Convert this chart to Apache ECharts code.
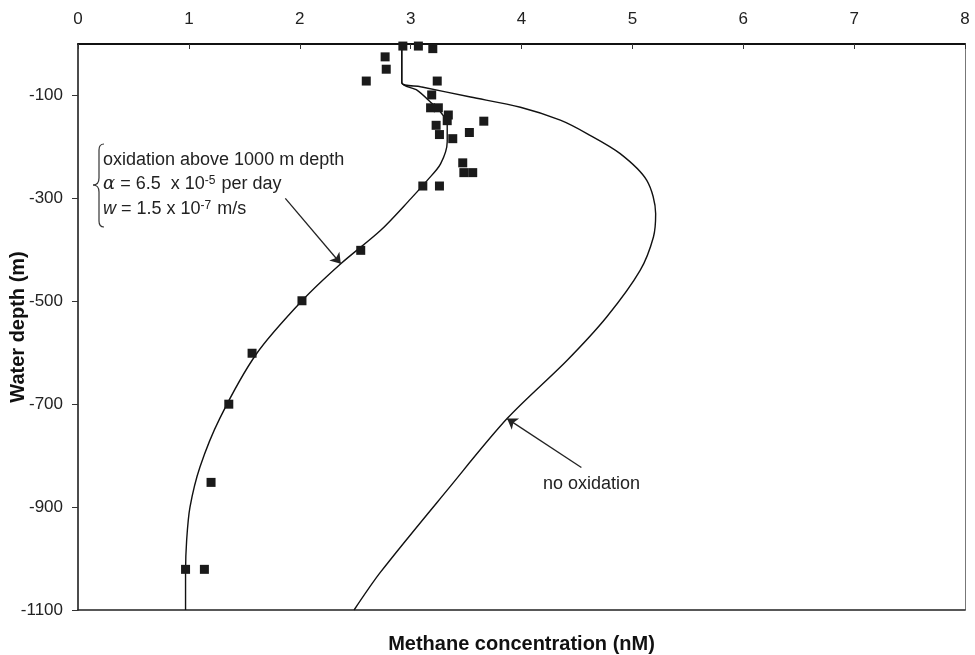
<!DOCTYPE html>
<html>
<head>
<meta charset="utf-8">
<script src="https://cdn.jsdelivr.net/npm/echarts@6/dist/echarts.min.js"></script>
<style>
html,body{margin:0;padding:0;background:#fff;}
#chart{width:975px;height:655px;}
</style>
</head>
<body>
<div id="chart"></div>
<script>
// Measured methane concentrations: [concentration nM, depth m]
const measured = [
  [2.93,-4],[3.07,-4],[3.20,-9],[2.77,-25],[2.78,-49],[2.60,-72],[3.24,-72],
  [3.19,-99],[3.18,-124],[3.25,-124],[3.34,-138],[3.33,-149],[3.23,-158],[3.66,-150],
  [3.26,-176],[3.53,-172],[3.38,-184],[3.47,-231],[3.48,-250],[3.56,-250],
  [3.11,-276],[3.26,-276],[2.55,-401],[2.02,-499],[1.57,-601],[1.36,-700],
  [1.20,-852],[0.97,-1021],[1.14,-1021]
];
// Model profile with oxidation above 1000 m
const oxidationModel = [
  [2.92,0],[2.92,-75],[3.06,-90],[3.18,-113],[3.28,-135],[3.33,-155],
  [3.33,-190],[3.27,-233],[3.15,-265],[3.00,-301],[2.73,-362],[2.37,-427],
  [2.02,-499],[1.61,-602],[1.28,-727],[1.10,-822],[1.01,-900],
  [0.98,-964],[0.97,-1028],[0.97,-1100]
];
// Model profile without oxidation
const noOxidationModel = [
  [2.92,0],[2.92,-75],[3.09,-83],[3.54,-103],[3.99,-123],[4.35,-148],[4.59,-174],
  [4.89,-213],[5.13,-265],[5.21,-330],[5.19,-375],[5.07,-440],[4.77,-530],
  [4.41,-615],[3.87,-728],[3.33,-867],[2.73,-1026],[2.49,-1100]
];
// Arrow annotations [from, to]
const arrowOxidation = [[1.87,-300],[2.37,-427]];
const arrowNoOxidation = [[4.54,-823],[3.87,-728]];

const xTicks = {min:0, max:8, interval:1};
const yTicks = {min:-1100, max:0, interval:200};

const FONT = '"Liberation Sans", Arial, sans-serif';
const chart = echarts.init(document.getElementById('chart'), null, {renderer:'canvas'});

const braceStyle = {stroke:'#333', lineWidth:1.2, fill:'none'};
const option = {
  backgroundColor:'#fff',
  animation:false,
  grid:{left:78, right:10, top:44, bottom:45, containLabel:false, outerBoundsMode:'none'},
  xAxis:[{
    type:'value', position:'top', min:xTicks.min, max:xTicks.max, interval:xTicks.interval,
    axisLine:{show:true, onZero:false, lineStyle:{color:'#111', width:2}},
    axisTick:{show:true, inside:true, length:5, lineStyle:{color:'#333', width:1}},
    axisLabel:{color:'#222', fontSize:17, fontFamily:FONT, margin:16},
    splitLine:{show:false}
  },{
    type:'value', position:'bottom', min:xTicks.min, max:xTicks.max, interval:xTicks.interval,
    axisLine:{show:true, onZero:false, lineStyle:{color:'#222', width:1.5}},
    axisTick:{show:false}, axisLabel:{show:false}, splitLine:{show:false},
    name:'Methane concentration (nM)', nameLocation:'middle', nameGap:24, nameMoveOverlap:false,
    nameTextStyle:{color:'#111', fontSize:20, fontWeight:'bold', fontFamily:FONT}
  }],
  yAxis:[{
    type:'value', position:'left', min:yTicks.min, max:yTicks.max, interval:yTicks.interval,
    axisLine:{show:true, onZero:false, lineStyle:{color:'#111', width:1.5}},
    axisTick:{show:true, inside:false, length:6, lineStyle:{color:'#333', width:1}},
    axisLabel:{color:'#222', fontSize:17, fontFamily:FONT, margin:15, showMaxLabel:false,
      formatter:function(v){ return v === 0 ? '' : String(v); }},
    splitLine:{show:false},
    name:'Water depth (m)', nameLocation:'middle', nameGap:50, nameRotate:90, nameMoveOverlap:false,
    nameTextStyle:{color:'#111', fontSize:20, fontWeight:'bold', fontFamily:FONT}
  },{
    type:'value', position:'right', min:yTicks.min, max:yTicks.max, interval:yTicks.interval,
    axisLine:{show:true, onZero:false, lineStyle:{color:'#777', width:1}},
    axisTick:{show:false}, axisLabel:{show:false}, splitLine:{show:false}
  }],
  series:[
    {
      name:'no oxidation', type:'line', data:noOxidationModel, smooth:0.3,
      showSymbol:false, symbol:'none', clip:true,
      lineStyle:{color:'#111', width:1.4}, silent:true
    },
    {
      name:'oxidation', type:'line', data:oxidationModel, smooth:0.3,
      showSymbol:false, symbol:'none', clip:true,
      lineStyle:{color:'#111', width:1.4}, silent:true
    },
    {
      name:'measured', type:'scatter', data:measured, symbol:'rect', symbolSize:9,
      itemStyle:{color:'#1a1a1a', opacity:1}, z:5
    },
    {
      name:'arrows', type:'line', data:[], silent:true,
      markLine:{
        silent:true, symbol:['none','arrow'], symbolSize:10, animation:false,
        lineStyle:{color:'#222', width:1.3, type:'solid'}, label:{show:false},
        emphasis:{disabled:true},
        data:[
          [{coord:arrowOxidation[0]},{coord:arrowOxidation[1]}],
          [{coord:arrowNoOxidation[0]},{coord:arrowNoOxidation[1]}]
        ]
      }
    }
  ],
  graphic:[
    {type:'bezierCurve', shape:{x1:104,y1:144,cpx1:100,cpy1:144,cpx2:99,cpy2:146,x2:99,y2:150}, style:braceStyle},
    {type:'line', shape:{x1:99,y1:150,x2:99,y2:178}, style:braceStyle},
    {type:'bezierCurve', shape:{x1:99,y1:178,cpx1:99,cpy1:183,cpx2:97,cpy2:185,x2:93,y2:185}, style:braceStyle},
    {type:'bezierCurve', shape:{x1:93,y1:185,cpx1:97,cpy1:185,cpx2:99,cpy2:187,x2:99,y2:192}, style:braceStyle},
    {type:'line', shape:{x1:99,y1:192,x2:99,y2:221}, style:braceStyle},
    {type:'bezierCurve', shape:{x1:99,y1:221,cpx1:99,cpy1:225,cpx2:100,cpy2:227,x2:104,y2:227}, style:braceStyle},
    {type:'text', x:103, y:160, style:{text:'oxidation above 1000 m depth', fill:'#222',
      font:'18px ' + FONT, textVerticalAlign:'middle', verticalAlign:'middle'}},
    {type:'text', x:103, y:184, style:{
      text:'{a|α} = 6.5  x 10{s|-5} per day', fill:'#222', font:'18px ' + FONT,
      textVerticalAlign:'middle', verticalAlign:'middle',
      rich:{
        a:{fontFamily:'"DejaVu Serif", serif', fontStyle:'italic', fontSize:18, fill:'#222', color:'#222'},
        s:{fontSize:12, fontFamily:FONT, verticalAlign:'top', fill:'#222', color:'#222', padding:[0,1,0,0]}
      }}},
    {type:'text', x:103, y:209, style:{
      text:'{w|w} = 1.5 x 10{s|-7} m/s', fill:'#222', font:'18px ' + FONT,
      textVerticalAlign:'middle', verticalAlign:'middle',
      rich:{
        w:{fontFamily:FONT, fontStyle:'italic', fontSize:18, fill:'#222', color:'#222'},
        s:{fontSize:12, fontFamily:FONT, verticalAlign:'top', fill:'#222', color:'#222', padding:[0,1,0,0]}
      }}},
    {type:'text', x:543, y:484, style:{text:'no oxidation', fill:'#222', font:'18px ' + FONT,
      textVerticalAlign:'middle', verticalAlign:'middle'}}
  ]
};
chart.setOption(option);
</script>
</body>
</html>
